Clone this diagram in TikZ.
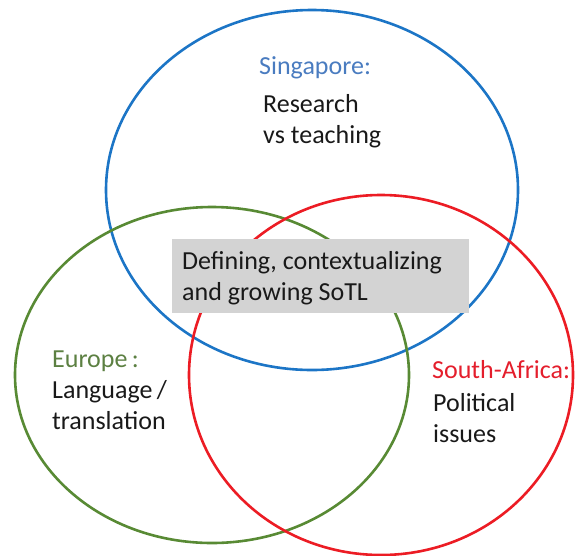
\documentclass[tikz,border=0pt]{standalone}
\usepackage{fontspec}
\setmainfont{Carlito}
\usepackage{tikz}
\usetikzlibrary{positioning}
\definecolor{sgblue}{RGB}{28,117,198}
\definecolor{sglabel}{RGB}{74,124,192}
\definecolor{eugreen}{RGB}{88,138,52}
\definecolor{eulabel}{RGB}{92,128,66}
\definecolor{sared}{RGB}{236,28,36}
\definecolor{salabel}{RGB}{228,30,44}
\definecolor{boxgray}{RGB}{211,211,211}
\definecolor{textblack}{RGB}{25,25,25}

\begin{document}
\begin{tikzpicture}[x=1pt, y=-1pt,
		region/.style={line width=2.6pt},
		label/.style={inner sep=0pt, anchor=base west, align=left,
			font=\fontsize{26}{30.5}\selectfont},
		body/.style={label, text=textblack}]
		%%%%% START %%%%%
		\useasboundingbox (0, 0) rectangle (576, 555);
		
		\draw[region, sgblue] (312, 190) ellipse [x radius=206pt, y radius=180pt];
		\draw[region, eugreen] (212, 375) ellipse [x radius=197pt, y radius=168pt];
		\draw[region, sared] (381, 375) ellipse [x radius=192pt, y radius=180pt];
		
		% multi-line nodes sit on the baseline of their last line
		\fill[boxgray] (172, 239) rectangle (469, 313);
		\node[body] (core) at (182, 300) {Defining, contextualizing\\and growing SoTL};
		
		\node[label, text=sglabel] (sg) at (259, 74) {Singapore:};
		\node[body] (sgtext) at (263, 143) {Research\\vs teaching};
		
		\node[label, text=eulabel] (eu) at (52, 367) {Europe\,:};
		\node[body] (eutext) at (52, 429) {Language\,/\\translation};
		
		\node[label, text=salabel] (sa) at (432, 378) {South-Africa:};
		\node[body] (satext) at (433, 442) {Political\\issues};
		%%%%% END %%%%%
	\end{tikzpicture}
\end{document}
